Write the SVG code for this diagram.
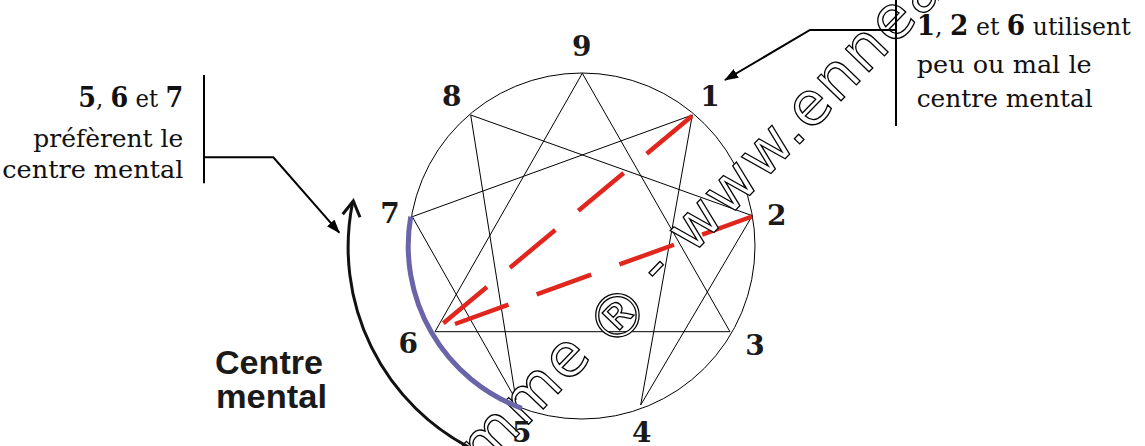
<svg xmlns="http://www.w3.org/2000/svg" width="1145" height="446" viewBox="0 0 1145 446">
  <defs>
    <marker id="ah" viewBox="0 0 14 10" refX="13" refY="5" markerWidth="14" markerHeight="10" markerUnits="userSpaceOnUse" orient="auto">
      <path d="M0,0 L14,5 L0,10 z" fill="#000"/>
    </marker>
    <style>
      .thin { fill: none; stroke: #000; stroke-width: 1; }
      .red { fill: none; stroke: #e0261d; stroke-width: 4.5; }
      .num { font-family: "DejaVu Serif", "Liberation Serif", serif; font-weight: bold; font-size: 28px; fill: #1a1a1a; text-anchor: middle; }
      .txt { font-family: "DejaVu Serif", "Liberation Serif", serif; font-size: 25px; fill: #111; }
      .b { font-weight: bold; }
      .call { fill: none; stroke: #000; stroke-width: 2; }
      .big { font-family: "Liberation Sans", Arial, sans-serif; font-weight: bold; font-size: 33px; fill: #1a1a1a; }
      .wm { font-family: "DejaVu Sans", "Liberation Sans", sans-serif; font-size: 60px; letter-spacing: 2.3px; fill: #fff; stroke: #000; stroke-width: 1.3; }
    </style>
  </defs>

  <g id="enneagram">
    <circle class="thin" cx="582" cy="246" r="173"/>
    <polygon class="thin" points="582.3,73.3 730,331.7 435,331.7"/>
    <polygon class="thin" points="692.3,115 640.7,405 752.3,215.7 470.7,115 516,400 412.3,216.7"/>
  </g>

  <g id="connectors">
    <line class="red" x1="692" y1="116" x2="443.3" y2="323.3" stroke-dasharray="59 30"/>
    <line class="red" x1="752" y1="216.5" x2="455" y2="324" stroke-dasharray="58 30" stroke-dashoffset="5"/>
  </g>

  <g id="watermark">
    <text class="wm" transform="translate(482.6,472) rotate(-46)">mme</text>
    <text class="wm" transform="translate(633.8,329.7) rotate(-46)" font-size="92" text-anchor="middle" letter-spacing="0">®</text>
    <text class="wm" transform="translate(660.5,287.9) rotate(-46)">- www.ennea</text>
  </g>

  <g id="mental-arc">
    <path d="M410.7,216.7 A173,173 0 0 0 521.7,408.3" fill="none" stroke="#6a64a8" stroke-width="5"/>
  </g>

  <g id="numbers">
    <text class="num" x="581.7" y="56">9</text>
    <text class="num" x="451.7" y="106">8</text>
    <text class="num" x="710" y="106">1</text>
    <text class="num" x="776.7" y="225">2</text>
    <text class="num" x="755" y="355">3</text>
    <text class="num" x="641.7" y="442">4</text>
    <text class="num" x="521.7" y="442">5</text>
    <text class="num" x="408.3" y="353.3">6</text>
    <text class="num" x="390" y="222.7">7</text>
  </g>

  <g id="center-arrow">
    <path d="M474.3,450 A226,226 0 0 1 352.5,203" fill="none" stroke="#111" stroke-width="3"/>
    <polyline points="342.7,214.3 353.3,201 360,217.3" fill="none" stroke="#111" stroke-width="3"/>
  </g>

  <g id="label-centre-mental">
    <text class="big" x="215" y="374" textLength="108" lengthAdjust="spacingAndGlyphs">Centre</text>
    <text class="big" x="216" y="407.5" textLength="111" lengthAdjust="spacingAndGlyphs">mental</text>
  </g>

  <g id="callout-left">
    <line class="call" x1="204" y1="75" x2="204" y2="183.3"/>
    <polyline class="call" points="204,157.3 273.3,157.3 339.3,232.7" marker-end="url(#ah)"/>
    <text class="txt" x="183.3" y="106.7" text-anchor="end" textLength="105" lengthAdjust="spacingAndGlyphs"><tspan class="b" font-size="28">5</tspan>, <tspan class="b" font-size="28">6</tspan> et <tspan class="b" font-size="28">7</tspan></text>
    <text class="txt" x="183.3" y="147.3" text-anchor="end" textLength="150" lengthAdjust="spacingAndGlyphs">préfèrent le</text>
    <text class="txt" x="183.3" y="178.3" text-anchor="end" textLength="181" lengthAdjust="spacingAndGlyphs">centre mental</text>
  </g>

  <g id="callout-right">
    <line class="call" x1="896" y1="0" x2="896" y2="126"/>
    <polyline class="call" points="896,30 810,30 725,80" marker-end="url(#ah)"/>
    <text class="txt" x="916.7" y="35" textLength="214" lengthAdjust="spacingAndGlyphs"><tspan class="b" font-size="28">1</tspan>, <tspan class="b" font-size="28">2</tspan> et <tspan class="b" font-size="28">6</tspan> utilisent</text>
    <text class="txt" x="916.7" y="72.7" textLength="175" lengthAdjust="spacingAndGlyphs">peu ou mal le</text>
    <text class="txt" x="916.7" y="106.7" textLength="176" lengthAdjust="spacingAndGlyphs">centre mental</text>
  </g>
</svg>
